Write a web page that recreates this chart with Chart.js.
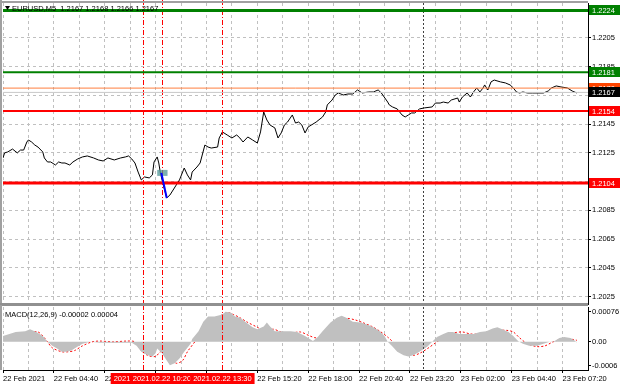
<!DOCTYPE html>
<html>
<head>
<meta charset="utf-8">
<script src="https://cdn.jsdelivr.net/npm/chart.js@4.4.0/dist/chart.umd.min.js"></script>
<style>
  html, body { margin:0; padding:0; background:#fff; }
  #wrap { position:relative; width:620px; height:388px; overflow:hidden; }
  #main { position:absolute; left:0; top:0; }
  #macd { position:absolute; left:0; top:305px; }
</style>
</head>
<body>
<div id="wrap">
  <canvas id="main" width="620" height="305"></canvas>
  <canvas id="macd" width="620" height="83"></canvas>
</div>
<script>
// ---- data (x = M5 bar index, bar 0 = 22 Feb 02:00) ----
const priceBar = [
  0,1,3,6,9,11,13,15,16,18,
  20,22,25,26,28,30,33,35,37,39,
  42,44,47,50,53,57,60,63,66,70,
  74,77,79,81,83,85,87,89,92,94,
  95,97,98,99,101,103,105,107,109,111,
  113,114,116,118,119,122,124,127,129,131,
  135,136,138,141,144,147,149,151,154,157,
  160,162,164,166,168,171,173,175,177,179,
  182,184,186,188,190,192,194,197,201,203,
  204,207,209,211,214,217,220,223,226,230,
  233,236,238,242,243,245,248,251,253,255,
  257,259,262,265,270,272,275,277,280,282,
  286,287,289,292,294,296,298,300,302,303,
  305,307,309,313,316,319,321,323,325,327,
  330,333,336,340,343,345,348,351,355,358,361
];
const price = [
  1.21214,1.21249,1.21256,1.21276,1.21249,1.21269,1.21269,1.21325,1.21339,1.21325,
  1.21304,1.21290,1.21256,1.21214,1.21186,1.21186,1.21165,1.21186,1.21179,1.21179,
  1.21165,1.21186,1.21207,1.21221,1.21228,1.21214,1.21200,1.21193,1.21214,1.21200,
  1.21214,1.21221,1.21228,1.21207,1.21179,1.21116,1.21061,1.21082,1.21075,1.21096,
  1.21186,1.21221,1.21179,1.21109,1.21019,1.20936,1.20956,1.20991,1.21026,1.21061,
  1.21116,1.21144,1.21096,1.21061,1.21116,1.21151,1.21179,1.21304,1.21290,1.21283,
  1.21290,1.21353,1.21395,1.21374,1.21353,1.21374,1.21353,1.21325,1.21360,1.21339,
  1.21318,1.21395,1.21534,1.21478,1.21443,1.21423,1.21353,1.21388,1.21443,1.21464,
  1.21513,1.21457,1.21464,1.21443,1.21388,1.21430,1.21443,1.21464,1.21499,1.21534,
  1.21583,1.21617,1.21652,1.21666,1.21652,1.21659,1.21659,1.21687,1.21666,1.21673,
  1.21673,1.21687,1.21666,1.21603,1.21583,1.21569,1.21555,1.21513,1.21499,1.21513,
  1.21527,1.21527,1.21555,1.21562,1.21569,1.21596,1.21596,1.21603,1.21596,1.21617,
  1.21631,1.21603,1.21638,1.21666,1.21638,1.21673,1.21701,1.21673,1.21701,1.21722,
  1.21687,1.21743,1.21756,1.21743,1.21736,1.21722,1.21701,1.21673,1.21666,1.21673,
  1.21666,1.21666,1.21666,1.21666,1.21680,1.21701,1.21715,1.21708,1.21701,1.21680,1.21666
];

const histBar = [
  0,4,8,14,17,21,25,28,31,34,
  37,40,43,47,50,55,61,74,81,84,
  87,91,94,96,97,100,103,105,108,111,
  114,118,119,123,126,129,133,138,140,143,
  146,149,153,157,160,164,166,168,171,175,
  181,185,190,195,198,201,206,210,213,216,
  220,225,229,233,237,240,242,245,248,252,
  255,258,262,267,270,273,277,280,283,287,
  292,296,300,304,308,311,314,318,321,324,
  327,331,336,340,344,347,350,353,357,360,361
];
const macdHist = [
  0.00015,0.00020,0.00025,0.00027,0.00032,0.00025,0.00015,0,-0.00010,-0.00017,
  -0.00025,-0.00025,-0.00022,-0.00012,-0.00005,0,-0.00002,-0.00002,-0.00002,-0.00010,
  -0.00025,-0.00034,-0.00037,-0.00029,-0.00017,-0.00029,-0.00047,-0.00059,-0.00054,-0.00042,
  -0.00025,-0.00005,0.00007,0.00027,0.00051,0.00064,0.00064,0.00069,0.00076,0.00074,
  0.00064,0.00061,0.00049,0.00037,0.00032,0.00039,0.00049,0.00039,0.00027,0.00027,
  0.00027,0.00025,0.00015,0.00002,0.00012,0.00027,0.00049,0.00061,0.00066,0.00061,
  0.00051,0.00049,0.00044,0.00037,0.00027,0.00015,0,-0.00012,-0.00025,-0.00034,
  -0.00037,-0.00034,-0.00025,-0.00012,0,0.00012,0.00020,0.00025,0.00025,0.00020,
  0.00020,0.00020,0.00025,0.00027,0.00034,0.00037,0.00032,0.00025,0.00015,0.00002,
  -0.00005,-0.00010,-0.00010,-0.00005,0,0.00002,0.00010,0.00012,0.00010,0.00002,-0.00002
];

const signalBar = [
  0,4,11,17,22,25,28,31,37,41,
  45,50,56,61,69,78,83,87,91,96,
  99,102,106,109,113,116,121,125,130,135,
  141,145,149,154,160,165,170,175,181,187,
  193,197,201,206,211,216,221,226,232,237,
  242,248,253,258,262,267,273,278,283,289,
  294,300,306,311,317,321,325,330,336,341,
  346,352,357,361
];
const macdSignal = [
  0.00010,0.00015,0.00022,0.00025,0.00025,0.00015,0,-0.00015,-0.00025,-0.00025,
  -0.00022,-0.00010,0,0.00002,0,0.00002,0,-0.00022,-0.00034,-0.00037,
  -0.00025,-0.00029,-0.00042,-0.00054,-0.00047,-0.00025,0.00002,0.00025,0.00044,0.00061,
  0.00074,0.00069,0.00061,0.00049,0.00037,0.00027,0.00032,0.00025,0.00022,0.00025,
  0.00015,0.00010,0.00015,0.00032,0.00049,0.00059,0.00056,0.00049,0.00039,0.00027,
  0.00012,-0.00010,-0.00025,-0.00034,-0.00029,-0.00017,0,0.00012,0.00022,0.00025,
  0.00020,0.00020,0.00025,0.00029,0.00029,0.00025,0.00010,-0.00005,-0.00012,-0.00010,
  0,0.00007,0.00007,0.00004
];

const gridBars = [0,16,32,48,64,80,96,112,128,144,160,176,192,208,224,240,256,272,288,304,320,336,352,368];
const timeLabels = ['22 Feb 2021','22 Feb 04:40','22 Feb 07:20','22 Feb 10:00','22 Feb 12:40','22 Feb 15:20',
  '22 Feb 18:00','22 Feb 20:40','22 Feb 23:20','23 Feb 02:00','23 Feb 04:40','23 Feb 07:20'];
const priceTicks = [1.2205,1.2185,1.2165,1.2145,1.2125,1.2105,1.2085,1.2065,1.2045,1.2025];
const macdTicks = [0.00076,0,-0.0006];
const macdTickLabels = ['0.00076','0.00','-0.0006'];

const levels = [1.2224,1.2181,1.2170,1.2167,1.2154,1.2104];
const vlineBars = [88,100,138];
const vlineLabels = ['2021.02.22 09:20','2021.02.22 10:20','2021.02.22 13:30'];
const daySepBar = 264;
const trendBar = [99.6,103];
const trendPrice = [1.21110,1.20936];
const header = 'EURUSD,M5  1.2167 1.2168 1.2166 1.2167';
const macdTitle = 'MACD(12,26,9) -0.00002 0.00004';

// ---- styles ----
const FAM = '"Liberation Sans", Arial, sans-serif';
const FS = 7.5;
const GRID = '#c0c0c0';
const levelLine = [['#008000',3],['#008000',2],['#ff7f3f',1],['#c8c8c8',1],['#ff0000',2],['#ff0000',3]];
const levelBox = ['#008000','#008000','#ff4500','#000000','#ff0000','#ff0000'];

function zeroPad(s){ s.paddingTop=0; s.paddingBottom=0; s.paddingLeft=0; s.paddingRight=0; }

function drawVLines(chart){
  const {ctx, chartArea:a, scales:{x}} = chart;
  ctx.save();
  ctx.lineWidth = 1;
  ctx.strokeStyle = '#404040';
  ctx.setLineDash([2,2]);
  let px = Math.round(x.getPixelForValue(daySepBar)) + 0.5;
  ctx.beginPath(); ctx.moveTo(px, a.top); ctx.lineTo(px, a.bottom); ctx.stroke();
  ctx.strokeStyle = '#ff0000';
  ctx.setLineDash([5,2,1,2]);
  vlineBars.forEach(b=>{
    const p = Math.round(x.getPixelForValue(b)) + 0.5;
    ctx.beginPath(); ctx.moveTo(p, 0); ctx.lineTo(p, a.bottom); ctx.stroke();
  });
  ctx.restore();
}

const mainOverlay = {
  id:'mainOverlay',
  afterDatasetsDraw(chart){
    const {ctx, chartArea:a, scales:{x,y}} = chart;
    drawVLines(chart);
    ctx.save();
    levels.forEach((v,i)=>{
      const [c,w] = levelLine[i];
      const py = y.getPixelForValue(v);
      ctx.strokeStyle = c; ctx.lineWidth = w;
      ctx.beginPath(); ctx.moveTo(a.left, py); ctx.lineTo(a.right, py); ctx.stroke();
    });
    // teal price label object and blue trend segment
    const bx0 = x.getPixelForValue(97), bx1 = x.getPixelForValue(103.5);
    const by = y.getPixelForValue(trendPrice[0]);
    ctx.fillStyle = 'rgba(80,150,150,0.75)';
    ctx.fillRect(bx0, by-3, bx1-bx0, 6);
    ctx.strokeStyle = '#0000ff'; ctx.lineWidth = 2;
    ctx.beginPath();
    ctx.moveTo(x.getPixelForValue(trendBar[0]), y.getPixelForValue(trendPrice[0]));
    ctx.lineTo(x.getPixelForValue(trendBar[1]), y.getPixelForValue(trendPrice[1]));
    ctx.stroke();
    ctx.restore();
  },
  afterDraw(chart){
    const {ctx, chartArea:a, scales:{y}} = chart;
    ctx.save();
    ctx.font = FS + 'px ' + FAM;
    ctx.textBaseline = 'middle';
    levels.forEach((v,i)=>{
      const py = Math.round(y.getPixelForValue(v));
      ctx.fillStyle = levelBox[i];
      ctx.fillRect(a.right+1, py-5, 620-a.right-1, 10);
      ctx.fillStyle = '#fff';
      ctx.fillText(v.toFixed(4), a.right+4, py+0.5);
    });
    // header
    ctx.fillStyle = '#000';
    ctx.beginPath(); ctx.moveTo(5,6); ctx.lineTo(10,6); ctx.lineTo(7.5,10); ctx.closePath(); ctx.fill();
    ctx.fillText(header, 12, 8.5);
    // frame
    ctx.fillStyle = '#a0a0a0';
    ctx.fillRect(0, 0, 2, 305);
    ctx.fillRect(0, 1, a.right, 2);
    ctx.fillStyle = '#909090';
    ctx.fillRect(0, 303, a.right, 2);
    ctx.restore();
  }
};

const macdOverlay = {
  id:'macdOverlay',
  afterDatasetsDraw(chart){ drawVLines(chart); },
  afterDraw(chart){
    const {ctx, chartArea:a, scales:{x}} = chart;
    ctx.save();
    ctx.font = FS + 'px ' + FAM;
    ctx.textBaseline = 'middle';
    ctx.fillStyle = '#000';
    ctx.fillText(macdTitle, 5, 10);
    ctx.textAlign = 'center';
    vlineBars.forEach((b,i)=>{
      const px = x.getPixelForValue(b);
      const w = ctx.measureText(vlineLabels[i]).width + 6;
      ctx.fillStyle = '#ff0000';
      ctx.fillRect(px - w/2, a.bottom+3, w, 11);
      ctx.fillStyle = '#fff';
      ctx.fillText(vlineLabels[i], px, a.bottom+9);
    });
    ctx.fillStyle = '#909090';
    ctx.fillRect(0, 0, a.right, 1);
    ctx.fillStyle = '#a0a0a0';
    ctx.fillRect(0, 0, 2, a.bottom);
    ctx.restore();
  }
};

function xScale(showLabels){
  return {
    type:'linear', min:0, max:368,
    afterBuildTicks: s=>{ s.ticks = gridBars.map(v=>({value:v})); },
    ticks:{
      display: showLabels, autoSkip:false, maxRotation:0, align:'start', padding:1,
      font:{family:FAM, size:FS}, color:'#000',
      callback: v => (v % 32 === 0 && timeLabels[v/32]) ? timeLabels[v/32] : ''
    },
    grid:{color:GRID, lineWidth:1, drawTicks:showLabels, tickLength:3,
          tickColor: c => (c.tick && c.tick.value % 32 === 0) ? '#000' : 'rgba(0,0,0,0)'},
    border:{display:showLabels, color:'#000', dash:[3,3]},
    afterFit: s=>{ s.height = showLabels ? 18 : 0; zeroPad(s); }
  };
}

new Chart(document.getElementById('main'), {
  type:'line',
  data:{ datasets:[{
    data: priceBar.map((b,i)=>({x:b, y:price[i]})),
    borderColor:'#000', borderWidth:1, pointRadius:0, tension:0
  }]},
  options:{
    responsive:false, animation:false, events:[],
    layout:{padding:{left:3, top:3, right:0, bottom:1}},
    plugins:{legend:{display:false}, tooltip:{enabled:false}},
    scales:{
      x: xScale(false),
      y:{
        position:'right', min:1.20198, max:1.22292,
        afterBuildTicks: s=>{ s.ticks = priceTicks.map(v=>({value:v})); },
        ticks:{font:{family:FAM, size:FS}, color:'#000', padding:1, callback: v => v.toFixed(4)},
        grid:{color:GRID, tickLength:3, tickColor:'#000'},
        border:{display:true, color:'#000', dash:[3,3]},
        afterFit: s=>{ s.width = 32; zeroPad(s); }
      }
    }
  },
  plugins:[mainOverlay]
});

new Chart(document.getElementById('macd'), {
  type:'line',
  data:{ datasets:[
    { data: histBar.map((b,i)=>({x:b, y:macdHist[i]})),
      borderColor:'rgba(0,0,0,0)', borderWidth:0, backgroundColor:'#c0c0c0',
      fill:'origin', pointRadius:0, tension:0 },
    { data: signalBar.map((b,i)=>({x:b, y:macdSignal[i]})),
      borderColor:'#ff0000', borderWidth:1, borderDash:[2,2], pointRadius:0, tension:0.3, fill:false }
  ]},
  options:{
    responsive:false, animation:false, events:[],
    layout:{padding:{left:3, top:2, right:0, bottom:0}},
    plugins:{legend:{display:false}, tooltip:{enabled:false}},
    scales:{
      x: xScale(true),
      y:{
        position:'right', min:-0.00071, max:0.00088,
        afterBuildTicks: s=>{ s.ticks = macdTicks.map(v=>({value:v})); },
        ticks:{font:{family:FAM, size:FS}, color:'#000', padding:1,
               callback: (v,i) => macdTickLabels[i]},
        grid:{drawOnChartArea:false, tickLength:3, tickColor:'#000'},
        border:{display:true, color:'#000'},
        afterFit: s=>{ s.width = 32; zeroPad(s); }
      }
    }
  },
  plugins:[macdOverlay]
});
</script>
</body>
</html>
